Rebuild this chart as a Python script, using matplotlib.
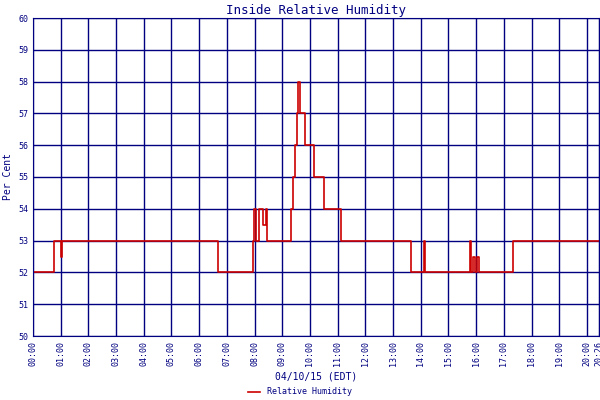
import matplotlib
matplotlib.use("Agg")
import matplotlib.pyplot as plt

NAVY = "#000080"
RED = "#cc0000"

# hours since midnight, value holds until next time (step post)
hours = [0.0, 0.76, 1.0, 1.05, 6.68, 7.94, 7.99, 8.05, 8.15, 8.3, 8.4, 8.45,
         9.31, 9.39, 9.47, 9.52, 9.56, 9.64, 9.82, 10.15, 10.5, 11.12,
         13.65, 14.12, 14.17, 15.78, 15.82, 15.9, 15.95, 16.05, 16.1, 16.2,
         17.33, 20.43]
values = [52, 53, 52.5, 53, 52, 53, 54, 53, 54, 53.5, 54, 53,
          54, 55, 56, 57, 58, 57, 56, 55, 54, 53,
          52, 53, 52, 53, 52, 52.5, 52, 52.5, 52, 52,
          53, 53]
tick_hours = list(range(0, 21)) + [20.43]
tick_labels = ["%02d:00" % h for h in range(0, 21)] + ["20:26"]

plt.rcParams["font.family"] = "DejaVu Sans Mono"
fig = plt.figure(figsize=(6, 4), dpi=100)
ax = fig.add_axes([0.055, 0.16, 0.943, 0.795])
ax.step(hours, values, where="post", color=RED, lw=1.2, label="Relative Humidity")
ax.set_xlim(0, 20.43)
ax.set_ylim(50, 60)
ax.set_xticks(tick_hours)
ax.set_xticklabels(tick_labels, rotation=90, fontsize=6, color=NAVY)
ax.set_yticks(range(50, 61))
ax.tick_params(axis="y", labelsize=6, colors=NAVY, length=0)
ax.tick_params(axis="x", length=0)
ax.grid(True, color=NAVY, lw=1)
for s in ax.spines.values():
    s.set_color(NAVY)
ax.set_title("Inside Relative Humidity", color=NAVY, fontsize=9, pad=3)
ax.set_ylabel("Per Cent", color=NAVY, fontsize=7)
ax.set_xlabel("04/10/15 (EDT)", color=NAVY, fontsize=7)
fig.legend(loc="lower center", frameon=False, fontsize=6, labelcolor=NAVY,
           handlelength=1.5, bbox_to_anchor=(0.5, -0.01))
fig.savefig("out.png")
